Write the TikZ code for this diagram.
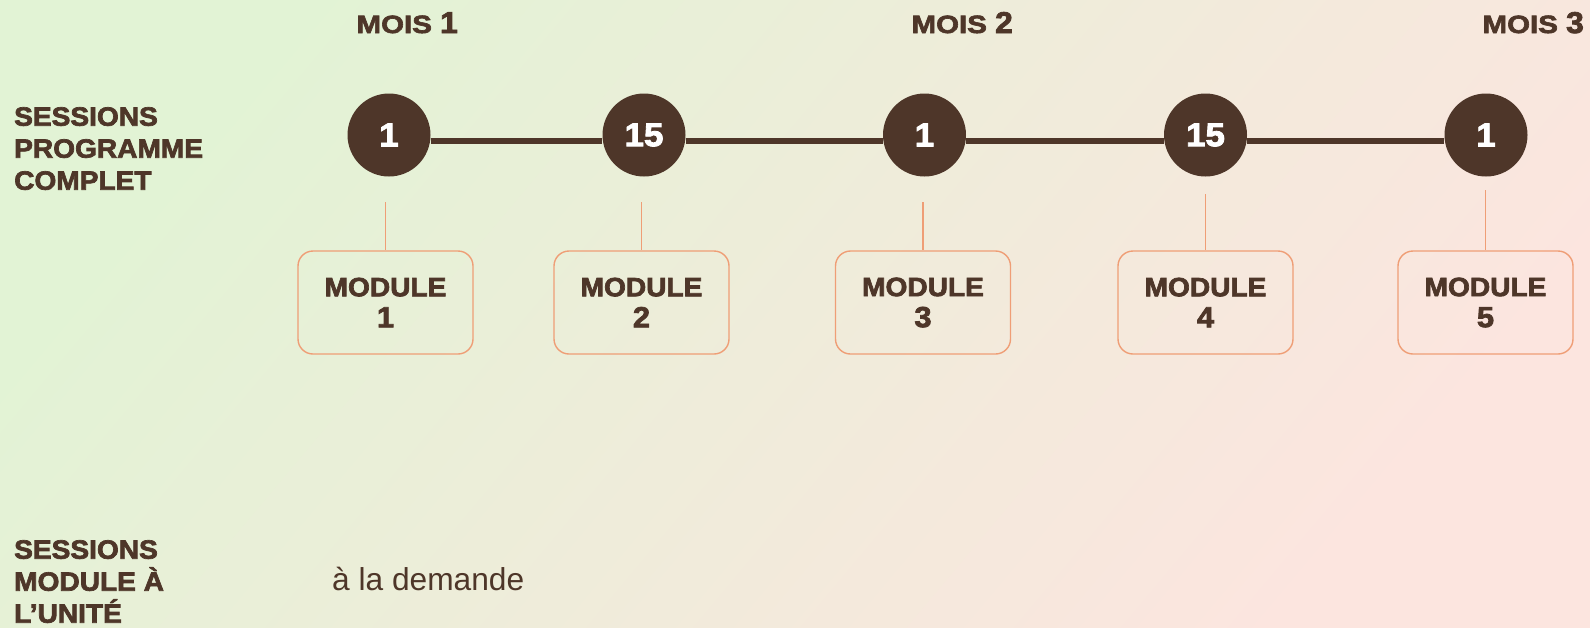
\documentclass[tikz,border=0pt]{standalone}
\usepackage{fontspec}
\setmainfont{Liberation Sans}
\newfontfamily\heavy[FakeStretch=1.06,FakeBold=2.6]{Liberation Sans Bold}
\newfontfamily\wideheavy[FakeStretch=1.18,FakeBold=2.6]{Liberation Sans Bold}
\definecolor{bark}{HTML}{4E3629}
\definecolor{peach}{HTML}{EF9E76}
\definecolor{bgleft}{HTML}{E2F3D5}
\definecolor{bgmid}{HTML}{EFEDDC}
\definecolor{bgright}{HTML}{FCE5DF}
\begin{document}
\begin{tikzpicture}[x=1pt, y=-1pt,
    session/.style={circle, fill=bark, minimum size=83pt, inner sep=0pt, text=white,
      font=\heavy\fontsize{33}{33}\selectfont},
    modbox/.style={draw=peach, line width=1.4pt, rounded corners=15pt, minimum width=175pt,
      minimum height=103pt, align=center, text=bark, font=\heavy\fontsize{26.5}{31}\selectfont},
    spine/.style={draw=bark, line width=6pt},
    tick/.style={draw=peach, line width=1.4pt},
    rowlabel/.style={anchor=north west, inner sep=0pt, align=left, text=bark,
      font=\heavy\fontsize{26.5}{32}\selectfont},
    month/.style={anchor=base east, inner sep=0pt, text=bark, font=\wideheavy\fontsize{25}{25}\selectfont}]
    \shade[top color=bgleft, middle color=bgmid, bottom color=bgright, shading angle=50]
      (0,0) rectangle (1590,627);
    \useasboundingbox (0,0) rectangle (1590,627);
    % sessions du programme complet
    \foreach \x/\n [count=\i] in {389/1, 644/15, 924.5/1, 1205.5/15, 1486/1}
      \node[session] (c\i) at (\x,135) {\n};
    \foreach \i [count=\j from 2] in {1,...,4}
      \draw[spine] ([yshift=-6pt]c\i.east) -- ([yshift=-6pt]c\j.west);
    % modules
    \foreach \x/\top [count=\i] in {385.5/202, 641.5/202, 923/202, 1205.5/194, 1485.5/190} {
      \node[modbox] (m\i) at (\x,302.5) {MODULE\\{\fontsize{29}{29}\selectfont\i}};
      \coordinate (t\i) at (\x,\top);
      \draw[tick] (t\i) -- (m\i.north);
    }
    \foreach \x/\m in {458/1, 1013/2, 1584/3}
      \node[month] (mois\m) at (\x,33) {MOIS {\heavy\fontsize{30}{30}\selectfont\m}};
    \node[rowlabel] (full) at (14,107) {SESSIONS\\PROGRAMME\\COMPLET};
    \node[rowlabel] (unit) at (14,540) {SESSIONS\\MODULE À\\L’UNITÉ};
    \node[anchor=base west, inner sep=0pt, text=bark, font=\fontsize{31.7}{31.7}\selectfont]
      (demand) at (332,590) {à la demande};
  \end{tikzpicture}
\end{document}
